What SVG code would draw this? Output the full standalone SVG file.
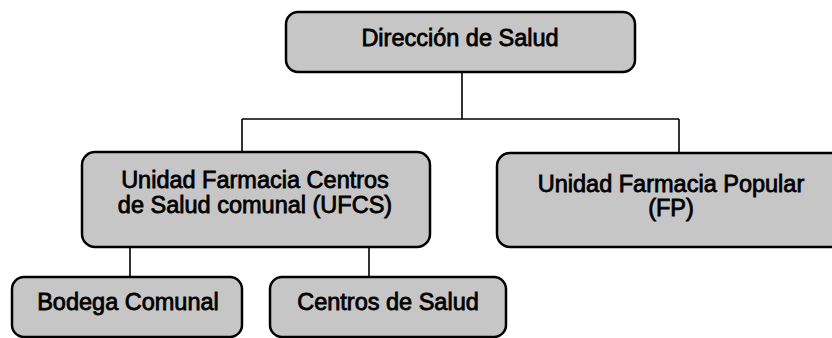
<svg xmlns="http://www.w3.org/2000/svg" width="832" height="338" viewBox="0 0 832 338">
<style>
.box{fill:#c6c6c6;stroke:#000;stroke-width:2.5}
.lbl{font-family:"Liberation Sans",Arial,sans-serif;font-size:23.5px;fill:#000;stroke:#000;stroke-width:0.8;text-anchor:middle}
.con{fill:none;stroke:#000;stroke-width:1.6}
</style>
<rect width="832" height="338" fill="#fff"/>
<g id="connectors">
<path class="con" d="M462 72 V119 M242 119 H679 M242 119 V152 M679 119 V153 M130 247 V277 M369 247 V277"/>
</g>
<g id="direccion">
<rect class="box" x="286" y="12" width="349" height="60" rx="12"/>
<text class="lbl" x="460" y="46">Dirección de Salud</text>
</g>
<g id="ufcs">
<rect class="box" x="82" y="152" width="348" height="95" rx="13"/>
<text class="lbl" x="255" y="188">Unidad Farmacia Centros</text>
<text class="lbl" x="255" y="213">de Salud comunal (UFCS)</text>
</g>
<g id="fp">
<rect class="box" x="497" y="153" width="348" height="94" rx="13"/>
<text class="lbl" x="671" y="192">Unidad Farmacia Popular</text>
<text class="lbl" x="671" y="216">(FP)</text>
</g>
<g id="bodega">
<rect class="box" x="12" y="277" width="230" height="60" rx="12"/>
<text class="lbl" x="128" y="310">Bodega Comunal</text>
</g>
<g id="centros">
<rect class="box" x="270" y="277" width="236" height="60" rx="12"/>
<text class="lbl" x="388" y="310">Centros de Salud</text>
</g>
</svg>
